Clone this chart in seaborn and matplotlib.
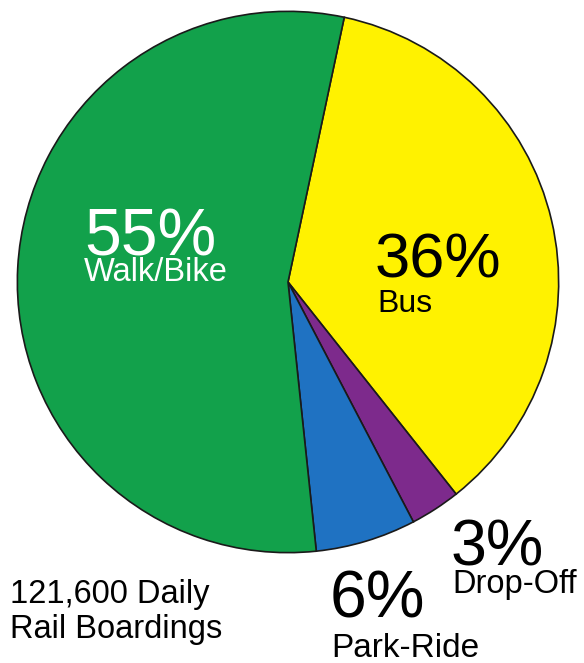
import matplotlib
matplotlib.use("Agg")
import matplotlib.pyplot as plt
import seaborn as sns

# Daily rail boardings by access mode
modes = ["Bus", "Drop-Off", "Park-Ride", "Walk/Bike"]
shares = [36, 3, 6, 55]
colors = ["#fff200", "#7d2a8c", "#1f72c2", "#12a14b"]
total_lines = ["121,600 Daily", "Rail Boardings"]

sns.set_theme(style="white")
plt.rcParams["font.family"] = ["Liberation Sans", "DejaVu Sans"]

W, H = 584, 663
fig = plt.figure(figsize=(W / 100, H / 100), dpi=100)

# pie centre and radius in pixels
cx, cy, r = 288, 282, 272
ax = fig.add_axes([(cx - r) / W, 1 - (cy + r) / H, 2 * r / W, 2 * r / H])
ax.pie(shares, colors=colors, startangle=78, counterclock=False,
       wedgeprops=dict(edgecolor="#1a1a1a", linewidth=1.2))
ax.set_xlim(-1.005, 1.005)
ax.set_ylim(-1.005, 1.005)
ax.set_aspect("equal")
ax.axis("off")


def put(x, y, s, size, color="black"):
    fig.text(x / W, 1 - y / H, s, fontsize=size, color=color,
             ha="left", va="baseline")


# percentage and mode labels
put(84, 255, f"{shares[3]}%", 47.5, "white")
put(84, 281, modes[3], 23.5, "white")
put(375, 277, f"{shares[0]}%", 45.5)
put(377, 312, modes[0], 23)
put(451, 565, f"{shares[1]}%", 46.5)
put(452, 593, modes[1], 23.5)
put(330, 617, f"{shares[2]}%", 47.5)
put(331, 657, modes[2], 24)

put(10, 603, total_lines[0], 23.5)
put(10, 638, total_lines[1], 23.5)

fig.savefig("out.png", dpi=100)
